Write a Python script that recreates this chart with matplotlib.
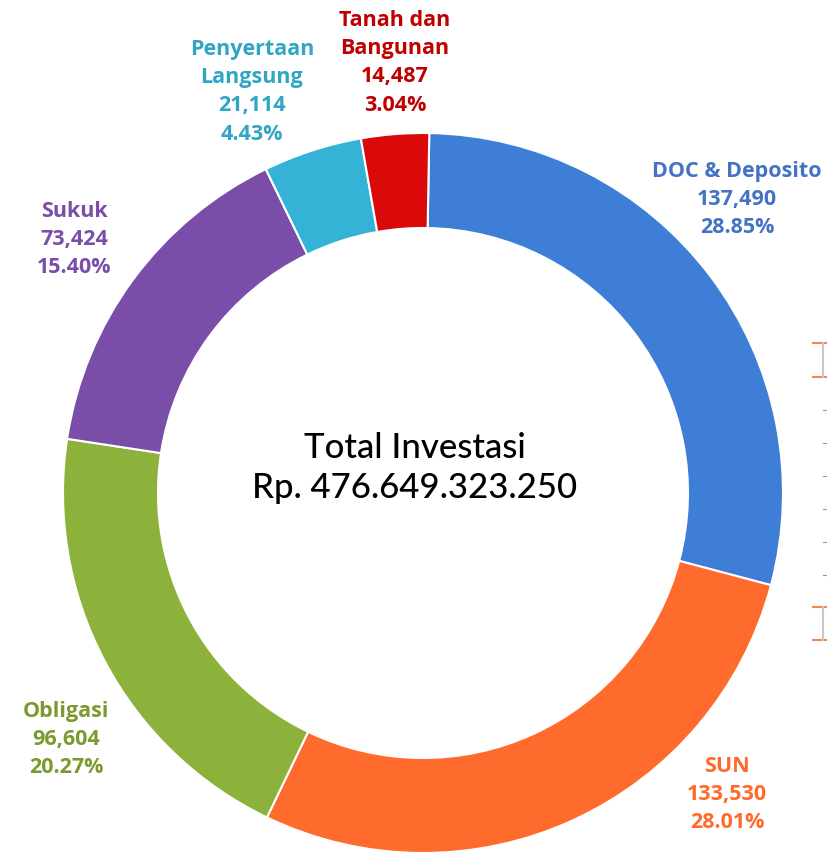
import matplotlib.pyplot as plt
from matplotlib.lines import Line2D

# data
categories = ['DOC & Deposito', 'SUN', 'Obligasi', 'Sukuk', 'Penyertaan\nLangsung', 'Tanah dan\nBangunan']
values = [137490, 133530, 96604, 73424, 21114, 14487]
percents = ['28.85%', '28.01%', '20.27%', '15.40%', '4.43%', '3.04%']
colors = ['#3E7ED6', '#FF6B2C', '#8CB23C', '#7A4DA8', '#35B3D6', '#DA0A0A']
label_colors = ['#4472C4', '#FF6A2A', '#7B9A2E', '#7A4DA8', '#31A5C4', '#C00000']

W, H = 827, 855
fig = plt.figure(figsize=(W / 100, H / 100), dpi=100)
ax = fig.add_axes([0, 0, 1, 1])

cx, cy = 423, H - 493
ax.pie(values, colors=colors, startangle=89, counterclock=False,
       center=(cx, cy), radius=360, frame=True,
       wedgeprops=dict(width=95, edgecolor='white', linewidth=1.5))
ax.set_xlim(0, W)
ax.set_ylim(0, H)
ax.set_aspect('equal')
ax.axis('off')

# label positions (pixel coords, top-left origin, top of text block)
label_pos = [(737, 161), (727, 756), (66, 701), (74, 201), (252, 39), (395, 10)]
for cat, v, p, col, (lx, ly) in zip(categories, values, percents, label_colors, label_pos):
    txt = f"{cat}\n{v:,}\n{p}"
    ax.text(lx, H - ly, txt, ha='center', va='top', color=col, fontsize=15.5,
            fontweight='bold', family='Open Sans', linespacing=1.45)

ax.text(cx - 8, H - 468, "Total Investasi\nRp. 476.649.323.250", ha='center', va='center',
        fontsize=25, family='Lato', fontweight='medium', color='black', linespacing=1.3)

# clipped table at the right edge
for y0, y1 in [(343, 377), (607, 640)]:
    ax.add_line(Line2D([813, W], [H - y0, H - y0], color='#F0894A', lw=1.5))
    ax.add_line(Line2D([813, W], [H - y1, H - y1], color='#F0894A', lw=1.5))
    ax.add_line(Line2D([823, 823], [H - y1, H - y0], color='#C8C8C8', lw=1.5))
for y in [410, 443, 476, 509, 542, 575]:
    ax.add_line(Line2D([823, W], [H - y, H - y], color='#999999', lw=0.8))

fig.savefig('out.png', dpi=100, facecolor='white')
